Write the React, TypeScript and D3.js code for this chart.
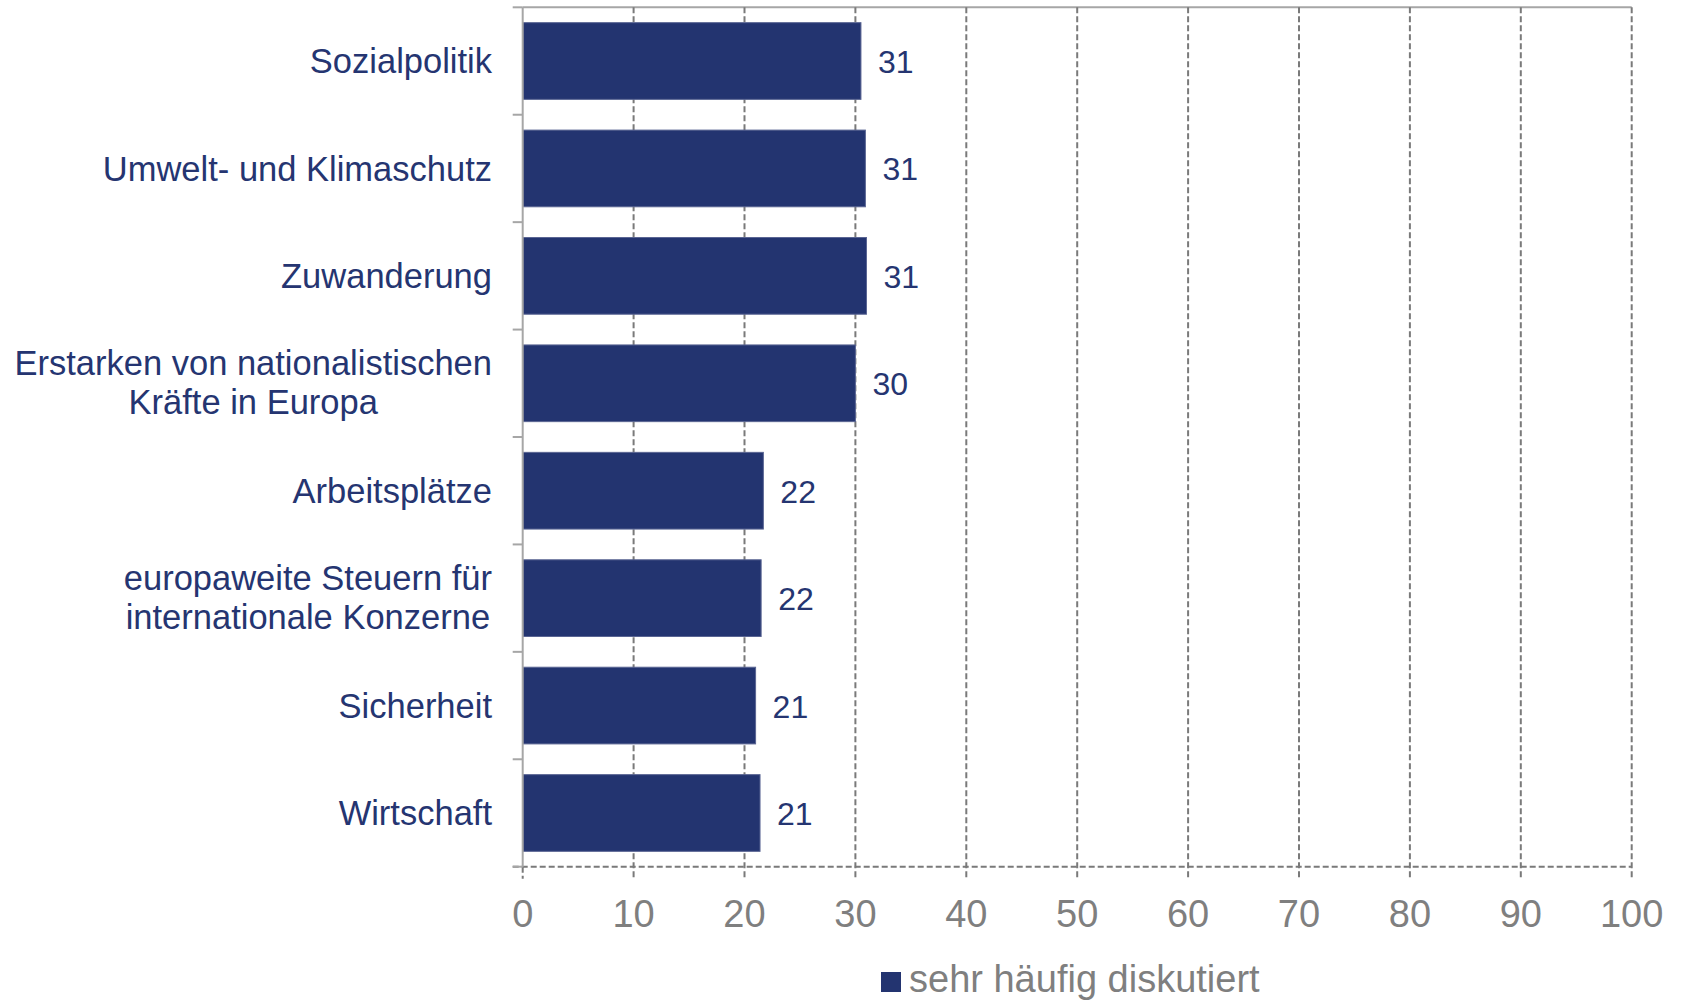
import React, { useEffect, useRef } from "react";
import * as d3 from "d3";

const categories: string[][] = [
  ["Sozialpolitik"],
  ["Umwelt- und Klimaschutz"],
  ["Zuwanderung"],
  ["Erstarken von nationalistischen", "Kräfte in Europa"],
  ["Arbeitsplätze"],
  ["europaweite Steuern für", "internationale Konzerne"],
  ["Sicherheit"],
  ["Wirtschaft"],
];
const values: number[] = [30.5, 30.9, 31.0, 30.0, 21.7, 21.5, 21.0, 21.4];
const valueLabels: string[] = ["31", "31", "31", "30", "22", "22", "21", "21"];
const xTicks: number[] = [0, 10, 20, 30, 40, 50, 60, 70, 80, 90, 100];
const legendLabel = "sehr häufig diskutiert";

const W = 1682;
const H = 1000;
const FONT = "'Liberation Sans', Arial, sans-serif";
const NAVY = "#233470";
const TEXT_NAVY = "#253571";
const GRAY = "#7f7f7f";

export default function App() {
  const ref = useRef<SVGSVGElement | null>(null);

  useEffect(() => {
    const svg = d3.select(ref.current);
    svg.selectAll("*").remove();

    const keys = categories.map((c) => c.join(" "));
    const x = d3.scaleLinear().domain([0, 100]).range([522.7, 1631.7]);
    const y = d3
      .scaleBand<string>()
      .domain(keys)
      .range([7.3, 866.7])
      .paddingInner(0.286)
      .paddingOuter(0.143);
    const step = y.step();
    const top = 7.3;
    const axisY = 866.7;

    // top border line
    svg
      .append("line")
      .attr("x1", x(0))
      .attr("x2", x(100))
      .attr("y1", top)
      .attr("y2", top)
      .attr("stroke", "#a6a6a6")
      .attr("stroke-width", 2);

    // vertical dashed gridlines
    svg
      .append("g")
      .selectAll("line")
      .data(xTicks.filter((t) => t > 0))
      .join("line")
      .attr("x1", (d) => x(d))
      .attr("x2", (d) => x(d))
      .attr("y1", top)
      .attr("y2", axisY + 12)
      .attr("stroke", "#7a7a7a")
      .attr("stroke-width", 2)
      .attr("stroke-dasharray", "6,3");

    // tick below zero
    svg
      .append("line")
      .attr("x1", x(0))
      .attr("x2", x(0))
      .attr("y1", axisY)
      .attr("y2", axisY + 12)
      .attr("stroke", "#7a7a7a")
      .attr("stroke-width", 2)
      .attr("stroke-dasharray", "6,3");

    // horizontal dashed axis
    svg
      .append("line")
      .attr("x1", x(0) - 10)
      .attr("x2", x(100))
      .attr("y1", axisY)
      .attr("y2", axisY)
      .attr("stroke", "#7a7a7a")
      .attr("stroke-width", 2)
      .attr("stroke-dasharray", "6,3");

    // bars
    svg
      .append("g")
      .selectAll("rect")
      .data(values)
      .join("rect")
      .attr("x", x(0))
      .attr("y", (_, i) => y(keys[i]) as number)
      .attr("width", (d) => x(d) - x(0))
      .attr("height", y.bandwidth())
      .attr("fill", NAVY)
      .attr("stroke", "#5a6593")
      .attr("stroke-width", 1);

    // y axis line
    svg
      .append("line")
      .attr("x1", x(0))
      .attr("x2", x(0))
      .attr("y1", top)
      .attr("y2", axisY)
      .attr("stroke", "#a6a6a6")
      .attr("stroke-width", 2);

    // y axis ticks at band boundaries
    svg
      .append("g")
      .selectAll("line")
      .data(d3.range(keys.length + 1))
      .join("line")
      .attr("x1", x(0) - 10)
      .attr("x2", x(0))
      .attr("y1", (i) => top + i * step)
      .attr("y2", (i) => top + i * step)
      .attr("stroke", "#a6a6a6")
      .attr("stroke-width", 2);

    // value labels
    svg
      .append("g")
      .selectAll("text")
      .data(values)
      .join("text")
      .attr("x", (d) => x(d) + 17)
      .attr("y", (_, i) => (y(keys[i]) as number) + y.bandwidth() / 2 + 12)
      .attr("font-family", FONT)
      .attr("font-size", 32)
      .attr("fill", TEXT_NAVY)
      .text((_, i) => valueLabels[i]);

    // category labels
    const labelRight = 492;
    categories.forEach((lines, i) => {
      const cy = (y(keys[i]) as number) + y.bandwidth() / 2;
      const g = svg.append("g");
      if (lines.length === 1) {
        g.append("text")
          .attr("x", labelRight)
          .attr("y", cy + 12.3)
          .attr("text-anchor", "end")
          .attr("font-family", FONT)
          .attr("font-size", 34.5)
          .attr("fill", TEXT_NAVY)
          .text(lines[0]);
      } else {
        const texts = lines.map((l, j) =>
          g
            .append("text")
            .attr("y", cy - 8.5 + j * 39.5)
            .attr("text-anchor", "middle")
            .attr("font-family", FONT)
            .attr("font-size", 34.5)
            .attr("fill", TEXT_NAVY)
            .text(l)
        );
        const maxW = d3.max(texts, (t) => (t.node() as SVGTextElement).getComputedTextLength()) || 0;
        texts.forEach((t) => t.attr("x", labelRight - maxW / 2));
      }
    });

    // x tick labels
    svg
      .append("g")
      .selectAll("text")
      .data(xTicks)
      .join("text")
      .attr("x", (d) => x(d))
      .attr("y", 926.5)
      .attr("text-anchor", "middle")
      .attr("font-family", FONT)
      .attr("font-size", 38)
      .attr("fill", GRAY)
      .text((d) => String(d));

    // legend
    svg
      .append("rect")
      .attr("x", 881)
      .attr("y", 972)
      .attr("width", 20)
      .attr("height", 20)
      .attr("fill", NAVY);
    svg
      .append("text")
      .attr("x", 909)
      .attr("y", 992)
      .attr("font-family", FONT)
      .attr("font-size", 38)
      .attr("fill", GRAY)
      .text(legendLabel);
  }, []);

  return (
    <svg
      ref={ref}
      width={W}
      height={H}
      style={{ position: "absolute", left: 0, top: 0, background: "#fff" }}
    />
  );
}
